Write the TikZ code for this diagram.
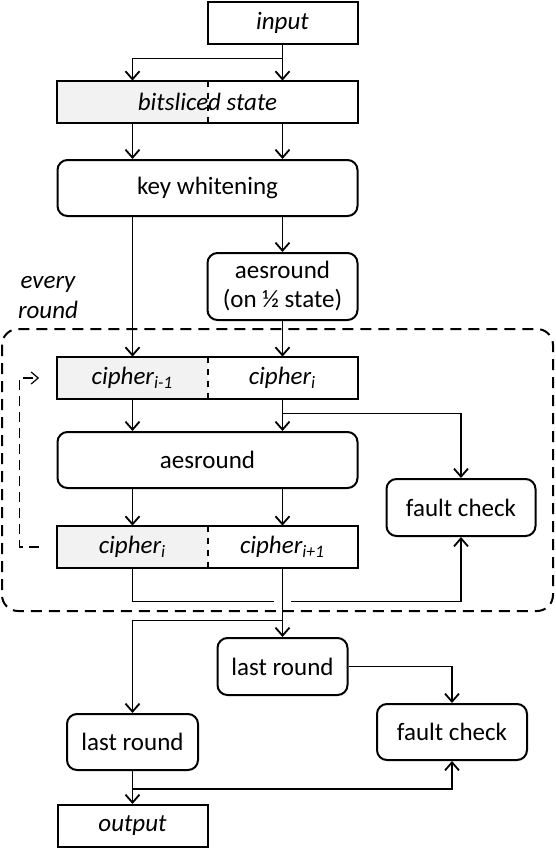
\documentclass[tikz,border=0pt]{standalone}
\usepackage{fontspec}
\setmainfont{Carlito}
\usetikzlibrary{calc,arrows.meta}

\begin{document}
\begin{tikzpicture}[x=0.5pt, y=-0.5pt,
  font=\fontsize{12.5}{14.5}\selectfont,
  box/.style = {rectangle, draw, line width=1pt, inner sep=0pt, minimum width=75pt, minimum height=21pt, font=\fontsize{12.5}{14.5}\selectfont\itshape},
  rbox/.style = {rectangle, draw, line width=1pt, rounded corners=5pt, inner sep=0pt, align=center},
  half/.style = {rectangle, inner sep=0pt, minimum width=75pt, minimum height=21pt, font=\fontsize{12.5}{14.5}\selectfont\itshape},
  shaded/.style = {half, fill=gray!10},
  arr/.style = {-{Straight Barb[length=4pt,width=7pt]}, line width=0.9pt},
  wire/.style = {line width=0.9pt},
  frame/.style = {line width=1pt, rounded corners=8pt, dash pattern=on 5.5pt off 3.5pt},
  loopback/.style = {-{Straight Barb[length=3.5pt,width=6pt]}, line width=0.6pt, dash pattern=on 5pt off 3pt}]

\useasboundingbox (0,0) rectangle (556,848);

\node[box] (input) at (282.5,22.5) {input};

% bitsliced state, split in two halves
\node[shaded] (bsL) at (132.5,102) {};
\node[half] (bsR) at (282.5,102) {};
\draw[line width=1pt] (bsL.north west) rectangle (bsR.south east);
\draw[dashed, line width=0.7pt] (bsL.north east) -- (bsL.south east);
\node[half, minimum width=0pt] (bits) at (207.5,102) {bitsliced state};

\node[rbox, minimum width=150pt, minimum height=28pt] (kw) at (207.5,188) {key whitening};
\node[rbox, minimum width=75pt, minimum height=33.5pt] (aes1) at (282.5,286.5) {aesround\\(on ½ state)};

\node[align=center, font=\fontsize{12.5}{15}\selectfont\itshape] (every) at (48,298) {every\\round};

% round state
\node[shaded] (cL1) at (132.5,378) {cipher\textsubscript{i-1}};
\node[half] (cR1) at (282.5,378) {cipher\textsubscript{i}};
\draw[line width=1pt] (cL1.north west) rectangle (cR1.south east);
\draw[dashed, line width=0.7pt] (cL1.north east) -- (cL1.south east);

\node[rbox, minimum width=150pt, minimum height=28pt] (aes2) at (207.5,460) {aesround};
\node[rbox, minimum width=74.5pt, minimum height=28.5pt] (fc1) at (461,507.5) {fault check};

\node[shaded] (cL2) at (132.5,547) {cipher\textsubscript{i}};
\node[half] (cR2) at (282.5,547) {cipher\textsubscript{i+1}};
\draw[line width=1pt] (cL2.north west) rectangle (cR2.south east);
\draw[dashed, line width=0.7pt] (cL2.north east) -- (cL2.south east);

\draw[frame] (2,329) rectangle (553,611);

\node[rbox, minimum width=65pt, minimum height=28.5pt] (lastR) at (282.5,666.5) {last round};
\node[rbox, minimum width=75pt, minimum height=28pt] (fc2) at (452,732) {fault check};
\node[rbox, minimum width=65.5pt, minimum height=28pt] (lastL) at (132.5,742) {last round};
\node[box] (output) at (132.5,826) {output};

% connectors
\coordinate (sp1) at ($(input.south)+(0,14)$);
\draw[arr] (input.south) -- (bsR.north);
\draw[arr] (sp1) -| (bsL.north);
\draw[arr] (bsL.south) -- (bsL.south |- kw.north);
\draw[arr] (bsR.south) -- (bsR.south |- kw.north);
\draw[arr] (aes1.north |- kw.south) -- (aes1.north);
\draw[arr] (cL1.north |- kw.south) -- (cL1.north);
\draw[arr] (aes1.south) -- (cR1.north);

\coordinate (sp2) at ($(cR1.south)+(0,14)$);
\draw[arr] (cL1.south) -- (cL1.south |- aes2.north);
\draw[arr] (cR1.south) -- (cR1.south |- aes2.north);
\draw[arr] (sp2) -| (fc1.north);
\draw[arr] (cL2.north |- aes2.south) -- (cL2.north);
\draw[arr] (cR2.north |- aes2.south) -- (cR2.north);

\coordinate (mg) at ($(cR2.south)+(0,33)$);
\draw[wire] (cL2.south) |- ([xshift=-4.3pt]mg);
\draw[arr] ([xshift=4.3pt]mg) -| (fc1.south);
\draw[loopback] ([xshift=-9.3pt]cL2.west) -| ([xshift=-18.8pt]cL1.west) -- ([xshift=-9pt]cL1.west);

\coordinate (sp3) at ($(cR2.south)+(0,52)$);
\draw[arr] (cR2.south) -- (lastR.north);
\draw[arr] (sp3) -| (lastL.north);
\draw[arr] (lastR.east) -| (fc2.north);
\coordinate (sp4) at ($(lastL.south)+(0,18)$);
\draw[arr] (lastL.south) -- (output.north);
\draw[arr] (sp4) -| (fc2.south);

\end{tikzpicture}
\end{document}
